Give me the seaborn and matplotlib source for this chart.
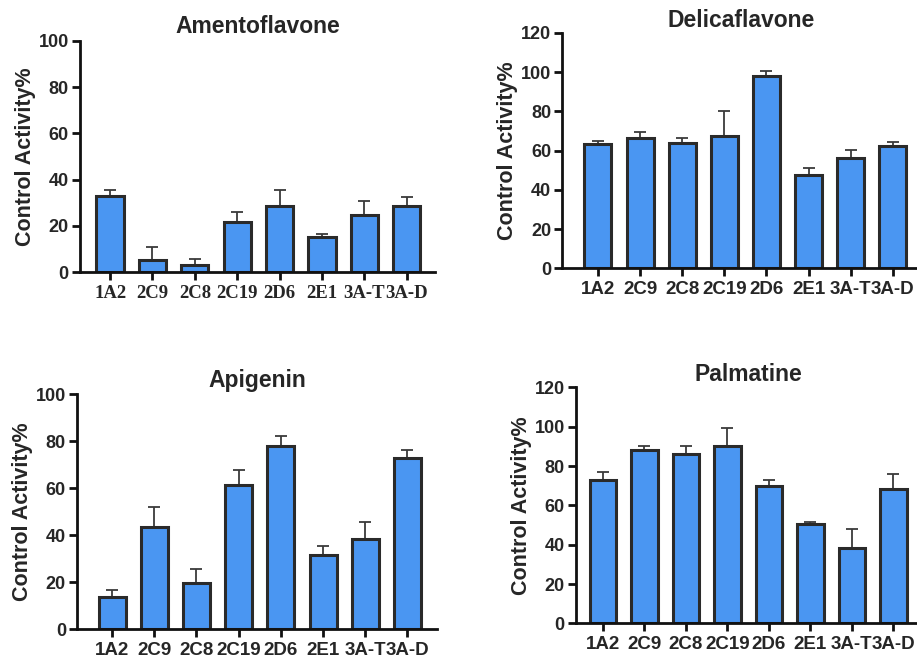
import numpy as np
import pandas as pd
import seaborn as sns
import matplotlib.pyplot as plt

sns.set_style("ticks")
plt.rcParams['font.family'] = ['Liberation Sans', 'DejaVu Sans']

enzymes = ["1A2", "2C9", "2C8", "2C19", "2D6", "2E1", "3A-T", "3A-D"]

amento_mean = [32.9, 5.2, 2.9, 21.6, 28.8, 15.3, 24.8, 28.8]
amento_err = [2.8, 5.8, 2.6, 4.6, 6.9, 1.4, 6.0, 3.6]

delica_mean = [63.3, 66.2, 63.8, 67.4, 98.2, 47.6, 56.2, 62.1]
delica_err = [1.4, 3.1, 2.8, 12.8, 2.5, 3.6, 4.2, 2.4]

apig_mean = [13.9, 43.3, 19.8, 61.5, 77.9, 31.4, 38.4, 72.9]
apig_err = [2.8, 8.8, 5.8, 6.1, 4.3, 4.0, 7.2, 3.3]

palm_mean = [73.1, 88.0, 86.3, 90.0, 69.7, 50.5, 38.5, 68.5]
palm_err = [3.7, 2.2, 3.7, 9.3, 3.5, 1.2, 9.3, 7.3]

panels = [
    # title, means, errs, axes rect (fig fractions), ymax, xlim, serif x labels, title pad
    ("Amentoflavone", amento_mean, amento_err, [0.0872, 0.587, 0.387, 0.351], 100, (-0.71, 7.66), True, 6),
    ("Delicaflavone", delica_mean, delica_err, [0.613, 0.593, 0.391, 0.357], 120, (-0.85, 7.66), False, 4),
    ("Apigenin", apig_mean, apig_err, [0.084, 0.045, 0.393, 0.357], 100, (-0.83, 7.71), False, 5),
    ("Palmatine", palm_mean, palm_err, [0.628, 0.054, 0.376, 0.358], 120, (-0.65, 7.66), False, 5),
]

bar_color = "#4a96f2"
edge_color = "#2a2a2a"

fig = plt.figure(figsize=(9.17, 6.59), dpi=100)

for title, means, errs, rect, ymax, xlim, serif, tpad in panels:
    ax = fig.add_axes(rect)
    df = pd.DataFrame({"enzyme": enzymes, "activity": means})
    x = np.arange(len(enzymes))
    ax.errorbar(x, means, yerr=[np.zeros(len(errs)), errs], fmt="none",
                ecolor="#3a3a3a", elinewidth=1.3, capsize=4, capthick=1.3, zorder=1)
    sns.barplot(data=df, x="enzyme", y="activity", color=bar_color, width=0.64,
                edgecolor=edge_color, linewidth=2.2, saturation=1, errorbar=None,
                ax=ax, zorder=2)
    ax.set_ylim(0, ymax)
    ax.set_yticks(np.arange(0, ymax + 1, 20))
    ax.set_xlim(*xlim)
    ax.set_xlabel("")
    ax.set_ylabel("Control Activity%", fontsize=15.5, fontweight="bold", labelpad=2)
    ax.set_title(title, fontsize=16.5, fontweight="bold", pad=tpad)
    sns.despine(ax=ax)
    for s in ["left", "bottom"]:
        ax.spines[s].set_linewidth(2)
        ax.spines[s].set_color("#111111")
    ax.tick_params(axis="both", width=2, length=6, color="#111111", pad=2)
    ax.tick_params(axis="y", labelsize=13)
    ax.tick_params(axis="x", labelsize=13.5, pad=3)
    for lab in ax.get_yticklabels():
        lab.set_fontweight("bold")
    for lab in ax.get_xticklabels():
        lab.set_fontweight("bold")
        if serif:
            lab.set_family("Liberation Serif")

fig.savefig("out.png", dpi=100)
